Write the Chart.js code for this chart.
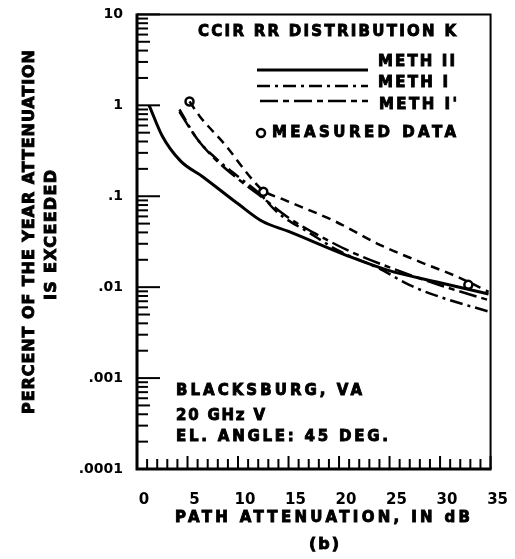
<!DOCTYPE html>
<html lang="en">
<head>
<meta charset="utf-8">
<title>CCIR RR distribution K - Blacksburg, VA</title>
<script src="https://cdn.jsdelivr.net/npm/chart.js@4.4.0/dist/chart.umd.min.js"></script>
<style>
    html, body { margin: 0; padding: 0; background: #fff; }
    #wrap { width: 515px; height: 559px; }
</style>
</head>
<body>
<div id="wrap"><canvas id="attenChart" width="515" height="559"></canvas></div>

<script type="text/javascript">

    // y axis: percent of the year the attenuation is exceeded (log)
    const yDecades = [0.0001, 0.001, 0.01, 0.1, 1, 10];
    const yTickLabels = ['.0001', '.001', '.01', '.1', '1', '10'];
    const xTickStep = 5;

    // METH II (solid)
    const methIIAtten = [1.2, 2.5, 4.3, 6.5, 10.1, 12.4, 15.0, 20.9, 24.8, 30.0, 34.8];
    const methIIPercent = [1.0, 0.46, 0.245, 0.164, 0.081, 0.053, 0.041, 0.022, 0.0154, 0.0112, 0.0084];

    // METH I (dash-dot)
    const methIAtten = [4.2, 6.0, 8.0, 10.0, 12.0, 14.0, 17.0, 20.0, 24.0, 27.0, 30.0, 34.8];
    const methIPercent = [0.9, 0.42, 0.25, 0.165, 0.11, 0.065, 0.04, 0.025, 0.016, 0.0105, 0.0078, 0.0054];

    // METH I' (long dash - short dash)
    const methIpAtten = [4.2, 6.0, 8.0, 10.0, 12.0, 15.0, 18.0, 21.0, 25.0, 30.0, 34.8];
    const methIpPercent = [0.85, 0.42, 0.24, 0.155, 0.105, 0.058, 0.037, 0.025, 0.0165, 0.0105, 0.0072];

    // dashed curve through the measured points
    const measFitAtten = [5.2, 6.2, 8.8, 11.1, 12.5, 14.3, 19.6, 24.1, 28.0, 32.0, 34.8];
    const measFitPercent = [1.1, 0.76, 0.36, 0.168, 0.115, 0.094, 0.053, 0.029, 0.019, 0.0126, 0.0089];

    // measured data (circles)
    const measuredAtten = [5.2, 12.5, 32.8];
    const measuredPercent = [1.1, 0.112, 0.0106];

    const FONT = '"DejaVu Sans", "Liberation Sans", sans-serif';

    function toPoints(xs, ys) {
        return xs.map((x, i) => ({x: x, y: ys[i]}));
    }

    // heavy lettering stretched to a given width
    function spacedText(ctx, text, x, y, width, size) {
        ctx.font = 'bold ' + size + 'px ' + FONT;
        ctx.letterSpacing = '0px';
        const w = ctx.measureText(text).width;
        const gap = (width - w) / Math.max(1, text.length - 1);
        ctx.letterSpacing = gap + 'px';
        ctx.textAlign = 'left';
        ctx.textBaseline = 'middle';
        ctx.lineWidth = 0.9;
        ctx.setLineDash([]);
        ctx.fillText(text, x, y);
        ctx.strokeText(text, x, y);
        ctx.letterSpacing = '0px';
    }

    const METH_I_DASH = [13, 5, 3, 5];
    const METH_IP_DASH = [18, 5, 6, 5];
    const MEAS_DASH = [9, 6];

    const decorPlugin = {
        id: 'decor',
        beforeDraw(chart) {
            const ctx = chart.ctx;
            ctx.save();
            ctx.fillStyle = '#fff';
            ctx.fillRect(0, 0, chart.width, chart.height);
            ctx.restore();
        },
        afterDatasetsDraw(chart) {
            const ctx = chart.ctx;
            const a = chart.chartArea;
            const xs = chart.scales.x;
            const ys = chart.scales.y;
            ctx.save();
            ctx.strokeStyle = '#000';
            ctx.setLineDash([]);

            // inward ticks on the log axis
            ctx.lineWidth = 2;
            for (let d = 0; d < yDecades.length; d++) {
                for (let m = 1; m <= 9; m++) {
                    const v = yDecades[d] * m;
                    if (v > yDecades[yDecades.length - 1]) break;
                    const py = ys.getPixelForValue(v);
                    const len = m === 1 ? 23 : (m === 5 ? 13 : 11);
                    ctx.beginPath();
                    ctx.moveTo(a.left, py);
                    ctx.lineTo(a.left + len, py);
                    ctx.stroke();
                }
            }

            // inward ticks on the dB axis, every 1 dB
            for (let v = xs.min; v <= xs.max; v++) {
                const px = xs.getPixelForValue(v);
                const len = v % 5 === 0 ? 13 : 10;
                ctx.beginPath();
                ctx.moveTo(px, a.bottom);
                ctx.lineTo(px, a.bottom - len);
                ctx.stroke();
            }

            // frame
            ctx.lineWidth = 2;
            ctx.beginPath();
            ctx.moveTo(a.left, a.top);
            ctx.lineTo(a.right, a.top);
            ctx.lineTo(a.right, a.bottom);
            ctx.stroke();
            ctx.lineWidth = 3;
            ctx.beginPath();
            ctx.moveTo(a.left, a.top - 1);
            ctx.lineTo(a.left, a.bottom);
            ctx.lineTo(a.right + 1, a.bottom);
            ctx.stroke();
            ctx.restore();
        },
        afterDraw(chart) {
            const ctx = chart.ctx;
            ctx.save();
            ctx.fillStyle = '#000';
            ctx.strokeStyle = '#000';

            // legend block
            spacedText(ctx, 'CCIR RR DISTRIBUTION K', 198, 32, 258, 15);

            ctx.lineWidth = 3;
            ctx.setLineDash([]);
            ctx.beginPath(); ctx.moveTo(257, 70); ctx.lineTo(368, 70); ctx.stroke();
            ctx.lineWidth = 2.5;
            ctx.setLineDash(METH_I_DASH);
            ctx.beginPath(); ctx.moveTo(257, 86); ctx.lineTo(368, 86); ctx.stroke();
            ctx.setLineDash(METH_IP_DASH);
            ctx.beginPath(); ctx.moveTo(260, 101); ctx.lineTo(368, 101); ctx.stroke();
            ctx.setLineDash([]);

            spacedText(ctx, 'METH II', 378, 62, 77, 15);
            spacedText(ctx, 'METH I', 378, 83, 70, 15);
            spacedText(ctx, "METH I'", 379, 105, 78, 15);

            ctx.fillStyle = '#fff';
            ctx.lineWidth = 2.5;
            ctx.beginPath(); ctx.arc(261, 133, 4, 0, Math.PI * 2); ctx.fill(); ctx.stroke();
            ctx.fillStyle = '#000';
            spacedText(ctx, 'MEASURED DATA', 272, 133, 184, 15);

            // site info
            spacedText(ctx, 'BLACKSBURG, VA', 176, 391, 186, 15);
            spacedText(ctx, '20 GHz V', 176, 416, 89, 15);
            spacedText(ctx, 'EL. ANGLE: 45 DEG.', 176, 437, 212, 15);

            // axis titles
            spacedText(ctx, 'PATH ATTENUATION, IN dB', 175, 518, 295, 15);
            spacedText(ctx, '(b)', 309, 545, 30, 16);

            ctx.save();
            ctx.translate(30, 232);
            ctx.rotate(-Math.PI / 2);
            spacedText(ctx, 'PERCENT OF THE YEAR ATTENUATION', -182, 0, 364, 16);
            ctx.restore();
            ctx.save();
            ctx.translate(52, 235);
            ctx.rotate(-Math.PI / 2);
            spacedText(ctx, 'IS EXCEEDED', -65, 0, 130, 16);
            ctx.restore();

            ctx.restore();
        }
    };

    new Chart(document.getElementById('attenChart'), {
        type: 'line',
        data: {
            datasets: [
                {
                    label: 'METH II',
                    data: toPoints(methIIAtten, methIIPercent),
                    borderColor: '#000',
                    borderWidth: 3,
                    pointRadius: 0,
                    cubicInterpolationMode: 'monotone'
                },
                {
                    label: 'METH I',
                    data: toPoints(methIAtten, methIPercent),
                    borderColor: '#000',
                    borderWidth: 2.5,
                    borderDash: METH_I_DASH,
                    pointRadius: 0,
                    cubicInterpolationMode: 'monotone'
                },
                {
                    label: "METH I'",
                    data: toPoints(methIpAtten, methIpPercent),
                    borderColor: '#000',
                    borderWidth: 2.5,
                    borderDash: METH_IP_DASH,
                    pointRadius: 0,
                    cubicInterpolationMode: 'monotone'
                },
                {
                    label: 'measured fit',
                    data: toPoints(measFitAtten, measFitPercent),
                    borderColor: '#000',
                    borderWidth: 2.5,
                    borderDash: MEAS_DASH,
                    pointRadius: 0,
                    cubicInterpolationMode: 'monotone'
                },
                {
                    label: 'MEASURED DATA',
                    data: toPoints(measuredAtten, measuredPercent),
                    showLine: false,
                    pointRadius: 4,
                    pointBorderWidth: 2.5,
                    pointBackgroundColor: '#fff',
                    pointBorderColor: '#000'
                }
            ]
        },
        options: {
            responsive: false,
            animation: false,
            devicePixelRatio: 1,
            layout: {padding: {left: 0, top: 12, right: 21, bottom: 0}},
            plugins: {
                legend: {display: false},
                tooltip: {enabled: false}
            },
            scales: {
                x: {
                    type: 'linear',
                    min: 0,
                    max: 35,
                    grid: {display: false},
                    border: {display: false},
                    ticks: {
                        stepSize: xTickStep,
                        color: '#000',
                        padding: 14,
                        labelOffset: 7,
                        font: {family: FONT, size: 15, weight: 'bold'}
                    },
                    afterFit: scale => { scale.height = 90; }
                },
                y: {
                    type: 'logarithmic',
                    min: yDecades[0],
                    max: yDecades[yDecades.length - 1],
                    grid: {display: false},
                    border: {display: false},
                    afterBuildTicks: scale => {
                        scale.ticks = yDecades.map(v => ({value: v}));
                    },
                    ticks: {
                        color: '#000',
                        padding: 6,
                        autoSkip: false,
                        font: {family: FONT, size: 14, weight: 'bold'},
                        callback: value => {
                            const i = yDecades.indexOf(value);
                            return i >= 0 ? yTickLabels[i] : '';
                        }
                    },
                    afterFit: scale => { scale.width = 137; }
                }
            }
        },
        plugins: [decorPlugin]
    });

</script>
</body>
</html>
